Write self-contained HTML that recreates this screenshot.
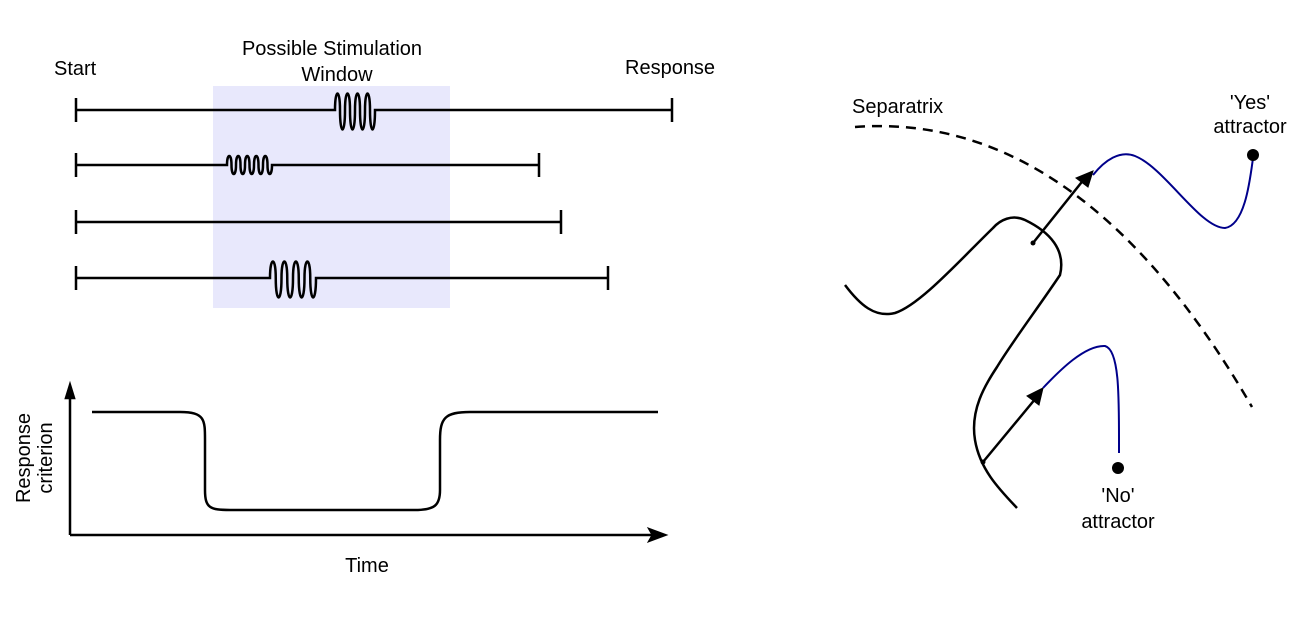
<!DOCTYPE html>
<html><head><meta charset="utf-8"><style>
html,body{margin:0;padding:0;background:#fff;}
svg text{font-family:"Liberation Sans",Arial,sans-serif;font-size:20px;fill:#000;}
</style></head><body>
<svg width="1310" height="615" viewBox="0 0 1310 615" xmlns="http://www.w3.org/2000/svg">
<rect x="213" y="86" width="237" height="222" fill="#e8e8fc"/>
<g stroke="#000" stroke-width="2.5" fill="none">
<path d="M76,110 H335 C335,88 340,88 340,110 C340,136 345,136 345,110 C345,88 350,88 350,110 C350,136 355,136 355,110 C355,88 360,88 360,110 C360,136 365,136 365,110 C365,88 370,88 370,110 C370,136 375,136 375,110 H672"/>
<path d="M76,98 V122 M672,98 V122"/>
<path d="M76,165 H227 C227,153 231.5,153 231.5,165 C231.5,177 236,177 236,165 C236,153 240.5,153 240.5,165 C240.5,177 245,177 245,165 C245,153 249.5,153 249.5,165 C249.5,177 254,177 254,165 C254,153 258.5,153 258.5,165 C258.5,177 263,177 263,165 C263,153 267.5,153 267.5,165 C267.5,177 272,177 272,165 H539"/>
<path d="M76,153 V177 M539,153 V177"/>
<path d="M76,222 H561 M76,210 V234 M561,210 V234"/>
<path d="M76,278 H270 C270,256 275.75,256 275.75,278 C275.75,304 281.5,304 281.5,278 C281.5,256 287.25,256 287.25,278 C287.25,304 293,304 293,278 C293,256 298.75,256 298.75,278 C298.75,304 304.5,304 304.5,278 C304.5,256 310.25,256 310.25,278 C310.25,304 316,304 316,278 H608"/>
<path d="M76,266 V290 M608,266 V290"/>
<path d="M70,535 V395 M70,535 H655"/>
<path d="M92,412 H180 C205,412 205,420 205,440 V490 C205,508 210,510 230,510 H415 C435,510 440,505 440,490 V440 C440,418 445,412 470,412 H658"/>
<path d="M855,127 Q1080,110 1252,407" stroke-dasharray="10,7"/>
<path d="M845,285 C860,305 875,318 895,313 C920,305 960,260 993,228 C1000,220 1012,214 1025,220 C1050,232 1066,250 1060,275 C1040,305 1010,345 997,367 C985,385 970,410 975,440 C980,470 1000,490 1017,508"/>
<path d="M1033,243 L1085,178"/>
<path d="M983,462 L1036,398"/>
</g>
<g stroke="#000" stroke-width="2.5" fill="#000">
<path d="M70,385 L66,398 L74,398 Z"/>
<path d="M667,535 L648,528 L652,535 L648,542 Z" stroke-width="1"/>
<path d="M1093,171 L1076,178 L1088,187 Z" stroke-width="1"/>
<path d="M1043,388 L1027,396 L1039,405 Z" stroke-width="1"/>
</g>
<g stroke="#00008b" stroke-width="2" fill="none">
<path d="M1093,175 C1105,160 1120,150 1135,156 C1165,168 1200,228 1225,228 C1245,225 1250,180 1253,158"/>
<path d="M1043,388 C1060,370 1085,345 1105,346 C1120,350 1119,400 1119,453"/>
</g>
<circle cx="1253" cy="155" r="6" fill="#000"/>
<circle cx="1118" cy="468" r="6" fill="#000"/>
<circle cx="1033" cy="243" r="2.5" fill="#000"/>
<circle cx="983" cy="462" r="2.5" fill="#000"/>
<text x="54" y="75">Start</text>
<text x="332" y="55" text-anchor="middle">Possible Stimulation</text>
<text x="337" y="81" text-anchor="middle">Window</text>
<text x="625" y="74">Response</text>
<text x="367" y="572" text-anchor="middle">Time</text>
<text transform="translate(30,458) rotate(-90)" text-anchor="middle">Response</text>
<text transform="translate(52,458) rotate(-90)" text-anchor="middle">criterion</text>
<text x="852" y="113">Separatrix</text>
<text x="1250" y="109" text-anchor="middle">'Yes'</text>
<text x="1250" y="133" text-anchor="middle">attractor</text>
<text x="1118" y="502" text-anchor="middle">'No'</text>
<text x="1118" y="528" text-anchor="middle">attractor</text>
</svg>
</body></html>
